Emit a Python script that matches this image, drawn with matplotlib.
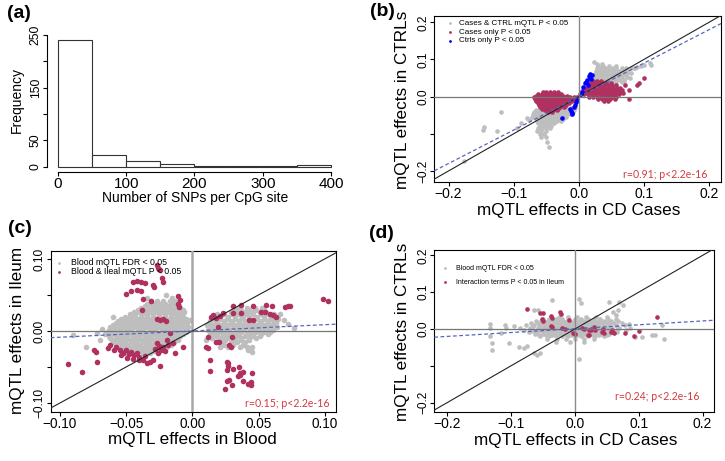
"""Four-panel mQTL figure: SNP-per-CpG histogram and three effect-size scatters."""

import matplotlib

matplotlib.use("Agg")

import matplotlib.pyplot as plt  # noqa: E402

plt.rcParams["font.family"] = ["Liberation Sans", "DejaVu Sans"]

GRAY = "#bebebe"
MAROON = "#b03060"
BLUE = "#0000ff"
STAT_RED = "#d33a3f"
FIT_BLUE = "#5864bd"

# ---- (a) histogram -------------------------------------------------------
HIST_EDGES = [0, 50, 100, 150, 200, 250, 300, 350, 400]
HIST_COUNTS = [240, 23, 10, 6, 1, 1, 1, 3]
A_XTICKS = [0, 100, 200, 300, 400]
A_YTICKS = [0, 50, 100, 150, 200, 250]
A_YLABELS = ["0", "50", "", "150", "", "250"]

# ---- shared scatter ticks ------------------------------------------------
BD_TICKS = [-0.2, -0.1, 0.0, 0.1, 0.2]
BD_XLABELS = ["\u22120.2", "\u22120.1", "0.0", "0.1", "0.2"]
BD_YLABELS = ["\u22120.2", "", "0.0", "0.1", "0.2"]
C_TICKS = [-0.10, -0.05, 0.0, 0.05, 0.10]
C_XLABELS = ["\u22120.10", "\u22120.05", "0.00", "0.05", "0.10"]
C_YLABELS = ["\u22120.10", "", "0.00", "", "0.10"]

# ---- (b) cases vs controls ----------------------------------------------
# rows: (y, [x, ...]) read off the dense clouds
B_GRAY_ROWS = [
    (-0.030, [-0.040, -0.030, -0.020, -0.012, -0.006]),
    (-0.036, [-0.066, -0.060, -0.054, -0.024, -0.018, -0.012, -0.007]),
    (-0.042, [-0.068, -0.062, -0.056, -0.050, -0.044, -0.038, -0.032, -0.026, -0.020, -0.014,
              -0.009]),
    (-0.048, [-0.066, -0.060, -0.054, -0.048, -0.042, -0.036, -0.030, -0.024, -0.018, -0.013]),
    (-0.054, [-0.068, -0.062, -0.056, -0.050, -0.044, -0.038, -0.032, -0.026, -0.020]),
    (-0.060, [-0.066, -0.060, -0.054, -0.048, -0.042, -0.036, -0.030, -0.024]),
    (-0.066, [-0.064, -0.058, -0.052, -0.046, -0.040, -0.034, -0.028]),
    (-0.072, [-0.062, -0.056, -0.050, -0.044, -0.038]),
    (-0.078, [-0.060, -0.054, -0.048, -0.042]),
    (-0.085, [-0.062, -0.056, -0.050, -0.044]),
    (-0.093, [-0.064, -0.058, -0.051]),
    (-0.100, [-0.060, -0.053]),
    (-0.108, [-0.058, -0.050]),
    (0.088, [0.028, 0.036]),
    (0.082, [0.030, 0.038, 0.046, 0.058]),
    (0.076, [0.028, 0.034, 0.040, 0.046, 0.052, 0.058, 0.066, 0.072, 0.080, 0.086]),
    (0.070, [0.026, 0.032, 0.038, 0.044, 0.050, 0.056, 0.062, 0.068, 0.074]),
    (0.064, [0.026, 0.032, 0.038, 0.044, 0.050, 0.056, 0.062, 0.068, 0.074, 0.080]),
    (0.058, [0.024, 0.030, 0.036, 0.042, 0.048, 0.054, 0.060, 0.066, 0.072]),
    (0.052, [0.024, 0.030, 0.036, 0.042, 0.048, 0.054, 0.060, 0.066, 0.074]),
    (0.046, [0.022, 0.028, 0.034, 0.040, 0.046, 0.052, 0.058, 0.064, 0.070]),
    (0.040, [0.020, 0.026, 0.046, 0.052, 0.058, 0.066]),
]
B_GRAY_EXTRA = [
    (-0.049, -0.121), (-0.045, -0.135), (-0.072, -0.054), (-0.077, -0.062), (-0.070, -0.047),
    (-0.080, -0.058), (-0.088, -0.072), (-0.095, -0.085), (-0.119, -0.042), (-0.126, -0.092),
    (-0.146, -0.083), (-0.147, -0.090), (-0.177, -0.173),
    (0.024, 0.093), (0.089, 0.081), (0.095, 0.083), (0.100, 0.086), (0.109, 0.090),
    (0.111, 0.085), (0.085, 0.078), (0.078, 0.051), (0.070, 0.041),
]
B_MAROON_ROWS = [
    (0.013, [-0.055, -0.050, -0.044, -0.038, -0.032]),
    (0.008, [-0.062, -0.057, -0.051, -0.045, -0.039, -0.033, -0.027]),
    (0.003, [-0.066, -0.060, -0.054, -0.048, -0.042, -0.036, -0.030, -0.024, -0.018]),
    (-0.002, [-0.068, -0.062, -0.056, -0.050, -0.044, -0.038, -0.032, -0.026, -0.020, -0.014,
              -0.008, -0.003]),
    (-0.007, [-0.067, -0.061, -0.055, -0.049, -0.043, -0.037, -0.031, -0.025, -0.019, -0.013,
              -0.007]),
    (-0.012, [-0.065, -0.059, -0.053, -0.047, -0.041, -0.035, -0.029, -0.023, -0.017, -0.011]),
    (-0.017, [-0.063, -0.057, -0.051, -0.045, -0.039, -0.033, -0.027, -0.021, -0.015]),
    (-0.022, [-0.061, -0.055, -0.049, -0.043, -0.037, -0.031, -0.025, -0.019]),
    (-0.027, [-0.059, -0.053, -0.047, -0.041, -0.035, -0.029, -0.023]),
    (-0.032, [-0.056, -0.050, -0.044, -0.038, -0.032]),
    (-0.037, [-0.052, -0.046, -0.040, -0.034]),
    (-0.041, [-0.047, -0.041]),
    (0.042, [0.022, 0.028, 0.034]),
    (0.036, [0.018, 0.024, 0.030, 0.036, 0.042, 0.050]),
    (0.030, [0.015, 0.021, 0.027, 0.033, 0.039, 0.045, 0.051, 0.057]),
    (0.024, [0.011, 0.017, 0.023, 0.029, 0.035, 0.041, 0.047, 0.053, 0.059, 0.064]),
    (0.018, [0.007, 0.013, 0.019, 0.025, 0.031, 0.037, 0.043, 0.049, 0.055, 0.061, 0.066]),
    (0.012, [0.004, 0.010, 0.016, 0.022, 0.028, 0.034, 0.040, 0.046, 0.052, 0.058, 0.064]),
    (0.006, [0.002, 0.008, 0.014, 0.020, 0.026, 0.032, 0.038, 0.044, 0.050, 0.056, 0.062]),
    (0.000, [0.016, 0.022, 0.028, 0.034, 0.040, 0.046, 0.052, 0.058]),
    (-0.006, [0.030, 0.036, 0.042, 0.048, 0.055]),
    (-0.011, [0.039, 0.045]),
]
B_MAROON_EXTRA = [
    (0.0997, 0.050), (0.089, 0.032), (0.092, 0.036), (0.077, 0.018), (0.077, -0.006),
    (0.071, 0.031), (0.068, 0.010),
]
B_BLUE = [
    (-0.026, -0.057), (-0.0135, -0.034), (-0.011, -0.043), (-0.010, -0.047), (-0.006, -0.022),
    (-0.004, -0.015), (-0.003, -0.009), (-0.008, -0.028), (-0.012, -0.038),
    (0.020, 0.058), (0.018, 0.062), (0.017, 0.050), (0.012, 0.045), (0.0095, 0.036),
    (0.0146, 0.032), (0.007, 0.027), (0.0045, 0.0135), (0.016, 0.055), (0.011, 0.040),
    (0.019, 0.048), (0.003, 0.006),
]
B_FIT = (0.0, 0.90)  # intercept, slope
B_STAT = "r=0.91; p<2.2e-16"
B_KEYS = [("Cases & CTRL mQTL P < 0.05", GRAY), ("Cases only P < 0.05", MAROON),
          ("Ctrls only P < 0.05", BLUE)]

# ---- (c) blood vs ileum --------------------------------------------------
C_GRAY_ROWS = [
    (0.041, [-0.031, -0.027, -0.022, -0.017, -0.013]),
    (0.038, [-0.034, -0.030, -0.025, -0.021, -0.016, -0.012]),
    (0.035, [-0.036, -0.032, -0.028, -0.023, -0.019, -0.014, -0.010]),
    (0.032, [-0.039, -0.035, -0.031, -0.026, -0.022, -0.017, -0.013, -0.009]),
    (0.029, [-0.041, -0.037, -0.033, -0.029, -0.024, -0.020, -0.015, -0.011, -0.007]),
    (0.026, [-0.044, -0.040, -0.036, -0.032, -0.027, -0.023, -0.018, -0.014, -0.010, -0.006]),
    (0.023, [-0.047, -0.043, -0.038, -0.034, -0.030, -0.025, -0.021, -0.016, -0.012, -0.008]),
    (0.020, [-0.051, -0.047, -0.043, -0.039, -0.034, -0.030, -0.025, -0.021, -0.016, -0.011,
             -0.007]),
    (0.017, [-0.054, -0.050, -0.045, -0.041, -0.036, -0.032, -0.027, -0.023, -0.018, -0.014,
             -0.009, -0.005]),
    (0.014, [-0.056, -0.052, -0.047, -0.043, -0.038, -0.034, -0.029, -0.025, -0.020, -0.016,
             -0.011, -0.007, -0.003]),
    (0.011, [-0.058, -0.054, -0.049, -0.045, -0.040, -0.036, -0.031, -0.027, -0.022, -0.018,
             -0.013, -0.009, -0.004]),
    (0.008, [-0.060, -0.056, -0.051, -0.047, -0.042, -0.038, -0.033, -0.029, -0.024, -0.020,
             -0.015, -0.011, -0.006]),
    (0.005, [-0.062, -0.057, -0.053, -0.048, -0.044, -0.039, -0.035, -0.030, -0.026, -0.021,
             -0.017, -0.012, -0.008, -0.003]),
    (0.002, [-0.063, -0.059, -0.055, -0.050, -0.046, -0.041, -0.037, -0.032, -0.028, -0.023,
             -0.019, -0.014, -0.010, -0.005]),
    (-0.001, [-0.064, -0.059, -0.055, -0.050, -0.046, -0.041, -0.037, -0.032, -0.028, -0.023,
              -0.019, -0.014, -0.010, -0.005]),
    (-0.004, [-0.066, -0.061, -0.057, -0.052, -0.048, -0.043, -0.039, -0.034, -0.030, -0.025,
              -0.021, -0.016, -0.012, -0.007]),
    (-0.007, [-0.063, -0.058, -0.054, -0.049, -0.045, -0.040, -0.036, -0.031, -0.027, -0.022,
              -0.018, -0.013, -0.009]),
    (-0.010, [-0.062, -0.058, -0.053, -0.049, -0.044, -0.040, -0.035, -0.031, -0.026, -0.022,
              -0.017, -0.013]),
    (-0.013, [-0.061, -0.056, -0.052, -0.047, -0.043, -0.038, -0.034, -0.029, -0.025, -0.020,
              -0.016, -0.011]),
    (-0.016, [-0.060, -0.055, -0.051, -0.046, -0.042, -0.037, -0.033, -0.028, -0.023, -0.018,
              -0.014]),
    (-0.019, [-0.058, -0.053, -0.049, -0.044, -0.040, -0.035, -0.031, -0.026, -0.021, -0.016]),
    (-0.022, [-0.057, -0.052, -0.048, -0.043, -0.039, -0.034, -0.029, -0.024, -0.019]),
    (-0.025, [-0.055, -0.050, -0.046, -0.041, -0.037, -0.032, -0.027, -0.022]),
    (-0.028, [-0.053, -0.048, -0.044, -0.039, -0.034, -0.029]),
    (-0.031, [-0.051, -0.046, -0.042, -0.037, -0.032]),
    (0.032, [0.035, 0.041, 0.047, 0.053]),
    (0.029, [0.032, 0.037, 0.043, 0.048, 0.054]),
    (0.026, [0.029, 0.034, 0.040, 0.045, 0.051, 0.056]),
    (0.023, [0.019, 0.024, 0.030, 0.035, 0.041, 0.046, 0.052, 0.057, 0.062]),
    (0.020, [0.016, 0.021, 0.027, 0.032, 0.038, 0.043, 0.049, 0.054, 0.060, 0.064]),
    (0.017, [0.015, 0.021, 0.026, 0.032, 0.037, 0.043, 0.048, 0.054, 0.059, 0.065]),
    (0.014, [0.013, 0.018, 0.024, 0.029, 0.035, 0.040, 0.046, 0.051, 0.057, 0.062]),
    (0.011, [0.013, 0.019, 0.024, 0.030, 0.035, 0.041, 0.046, 0.052, 0.057, 0.063]),
    (0.008, [0.011, 0.016, 0.022, 0.027, 0.033, 0.038, 0.044, 0.049, 0.055, 0.060]),
    (0.005, [0.014, 0.020, 0.025, 0.031, 0.036, 0.042, 0.047, 0.053, 0.058, 0.064]),
    (0.002, [0.012, 0.017, 0.023, 0.028, 0.034, 0.039, 0.045, 0.050, 0.056, 0.061]),
    (-0.001, [0.015, 0.021, 0.026, 0.032, 0.037, 0.043, 0.048, 0.054, 0.059]),
    (-0.004, [0.013, 0.019, 0.024, 0.030, 0.035, 0.041, 0.046, 0.052, 0.057]),
    (-0.007, [0.017, 0.023, 0.028, 0.034, 0.040, 0.045, 0.051]),
    (-0.010, [0.015, 0.021, 0.026, 0.032, 0.037, 0.043, 0.048]),
    (-0.013, [0.020, 0.025, 0.031, 0.037, 0.043]),
    (-0.016, [0.018, 0.023, 0.029, 0.034, 0.040]),
    (-0.019, [0.024, 0.031, 0.038]),
    (-0.022, [0.021, 0.027, 0.036, 0.041, 0.045]),
]
C_GRAY_EXTRA = [
    (-0.090, -0.005), (-0.080, -0.022), (-0.072, -0.003), (-0.068, 0.003), (-0.070, -0.012),
    (-0.020, 0.050), (-0.034, 0.046), (-0.015, 0.046), (-0.060, 0.020), (-0.002, 0.015),
    (0.069, 0.015), (0.077, 0.004), (0.042, -0.026), (0.045, -0.029), (0.066, 0.023),
    (0.010, -0.012), (0.072, 0.010),
]
C_MAROON = [
    (-0.045, 0.068), (-0.042, 0.069), (-0.039, 0.068), (-0.036, 0.067), (-0.027, 0.092),
    (-0.0245, 0.085), (-0.026, 0.088), (-0.023, 0.073), (-0.022, 0.068), (-0.030, 0.064),
    (-0.029, 0.061), (-0.046, 0.055), (-0.050, 0.052), (-0.042, 0.057), (-0.039, 0.055),
    (-0.037, 0.045), (-0.031, 0.041), (-0.0107, 0.048), (-0.0094, 0.043), (-0.0107, 0.037),
    (-0.010, 0.033), (-0.038, 0.029), (-0.0245, 0.015), (-0.027, 0.017), (-0.022, 0.016),
    (-0.020, 0.014),
    (-0.094, -0.046), (-0.083, -0.057), (-0.072, -0.043), (-0.074, -0.026), (-0.073, -0.029),
    (-0.058, -0.022), (-0.059, -0.027), (-0.055, -0.026), (-0.052, -0.030), (-0.050, -0.027),
    (-0.048, -0.032), (-0.046, -0.029), (-0.044, -0.034), (-0.042, -0.030), (-0.040, -0.036),
    (-0.054, -0.033), (-0.049, -0.037), (-0.045, -0.039), (-0.040, -0.040), (-0.037, -0.041),
    (-0.0346, -0.045), (-0.032, -0.043), (-0.030, -0.040), (-0.0245, -0.048), (-0.027, -0.017),
    (-0.022, -0.022), (-0.0195, -0.0125), (-0.025, -0.021), (-0.028, -0.025), (-0.024, -0.026),
    (-0.021, -0.028), (-0.018, -0.020), (-0.026, -0.030), (-0.0145, -0.017), (-0.013, -0.031),
    (-0.007, -0.022), (-0.017, -0.003), (-0.036, -0.035), (-0.062, -0.020), (-0.064, -0.024),
    (0.0987, 0.045), (0.1025, 0.042), (0.0723, 0.034), (0.070, 0.033), (0.074, 0.034),
    (0.056, 0.036), (0.060, 0.034), (0.046, 0.034), (0.037, 0.036), (0.031, 0.035),
    (0.061, 0.022), (0.063, 0.020), (0.059, 0.023), (0.055, 0.027), (0.052, 0.026),
    (0.043, 0.015), (0.046, 0.015), (0.037, 0.025), (0.031, 0.025), (0.023, 0.025),
    (0.021, 0.021), (0.018, 0.0175), (0.016, 0.022), (0.014, 0.019), (0.0195, 0.006),
    (0.012, -0.008), (0.0107, -0.022), (0.012, -0.024), (0.018, -0.015), (0.020, -0.016),
    (0.028, -0.0195), (0.029, -0.022), (0.030, -0.008), (0.013, -0.041), (0.013, -0.055),
    (0.026, -0.043), (0.027, -0.049), (0.026, -0.054), (0.031, -0.053), (0.035, -0.050),
    (0.038, -0.057), (0.045, -0.059), (0.0346, -0.063), (0.036, -0.061), (0.028, -0.068),
    (0.026, -0.070), (0.0245, -0.080), (0.030, -0.075), (0.038, -0.070), (0.042, -0.073),
    (0.0447, -0.075), (0.044, -0.071), (0.027, -0.045), (0.036, -0.059),
]
C_FIT = (0.0, 0.087)
C_STAT = "r=0.15; p<2.2e-16"
C_KEYS = [("Blood mQTL FDR < 0.05", GRAY), ("Blood & Ileal mQTL P < 0.05", MAROON)]

# ---- (d) interaction terms ----------------------------------------------
D_GRAY_ROWS = [
    (0.034, [-0.038, -0.024, -0.010, 0.004, 0.018, 0.034, 0.050]),
    (0.028, [-0.050, -0.040, -0.030, -0.020, -0.010, 0.000, 0.010, 0.020, 0.030, 0.040, 0.052,
             0.064]),
    (0.022, [-0.060, -0.050, -0.042, -0.034, -0.026, -0.018, -0.010, -0.002, 0.006, 0.014,
             0.022, 0.030, 0.038, 0.046, 0.056, 0.068]),
    (0.019, [-0.054, -0.045, -0.037, -0.030, -0.023, -0.016, -0.009, -0.002, 0.005, 0.012,
             0.019, 0.026, 0.033, 0.040, 0.048, 0.057]),
    (0.016, [-0.068, -0.058, -0.049, -0.041, -0.034, -0.027, -0.020, -0.013, -0.006, 0.001,
             0.008, 0.015, 0.022, 0.029, 0.036, 0.044, 0.052, 0.062, 0.074]),
    (0.010, [-0.076, -0.064, -0.054, -0.046, -0.039, -0.032, -0.025, -0.018, -0.011, -0.004,
             0.003, 0.010, 0.017, 0.024, 0.031, 0.038, 0.046, 0.054, 0.064, 0.078]),
    (0.007, [-0.066, -0.056, -0.047, -0.039, -0.032, -0.025, -0.018, -0.011, -0.004, 0.003,
             0.010, 0.017, 0.024, 0.031, 0.038, 0.046, 0.055, 0.066]),
    (0.004, [-0.086, -0.070, -0.058, -0.049, -0.042, -0.035, -0.028, -0.021, -0.014, -0.007,
             0.000, 0.007, 0.014, 0.021, 0.028, 0.035, 0.042, 0.050, 0.059, 0.070, 0.086]),
    (-0.002, [-0.080, -0.066, -0.055, -0.046, -0.039, -0.032, -0.025, -0.018, -0.011, -0.004,
              0.003, 0.010, 0.017, 0.024, 0.031, 0.038, 0.046, 0.055, 0.066, 0.080]),
    (-0.005, [-0.068, -0.058, -0.049, -0.041, -0.034, -0.027, -0.020, -0.013, -0.006, 0.001,
              0.008, 0.015, 0.022, 0.029, 0.036, 0.044, 0.053, 0.064]),
    (-0.008, [-0.072, -0.060, -0.050, -0.042, -0.035, -0.028, -0.021, -0.014, -0.007, 0.000,
              0.007, 0.014, 0.021, 0.028, 0.036, 0.044, 0.054, 0.066]),
    (-0.014, [-0.062, -0.050, -0.040, -0.032, -0.024, -0.016, -0.008, 0.000, 0.008, 0.016,
              0.024, 0.032, 0.042, 0.054]),
    (-0.017, [-0.056, -0.045, -0.036, -0.028, -0.020, -0.012, -0.004, 0.004, 0.012, 0.020,
              0.028, 0.038, 0.050]),
    (-0.020, [-0.054, -0.040, -0.030, -0.020, -0.010, 0.000, 0.010, 0.020, 0.032, 0.046]),
    (-0.027, [-0.044, -0.028, -0.014, 0.000, 0.014, 0.030]),
    (-0.035, [-0.030, -0.008, 0.014]),
]
D_GRAY_EXTRA = [
    (-0.132, 0.015), (-0.132, 0.003), (-0.132, -0.019), (-0.130, -0.037), (-0.129, -0.057),
    (-0.109, 0.011), (-0.108, 0.002), (-0.103, -0.037), (-0.088, -0.048), (-0.080, -0.052),
    (-0.075, -0.045), (-0.064, -0.064), (-0.059, -0.071), (-0.055, -0.066), (-0.064, 0.052),
    (-0.058, 0.052), (-0.036, 0.079), (0.006, 0.081), (0.009, 0.070), (0.007, -0.080),
    (0.053, 0.074), (0.069, 0.074), (0.068, 0.052), (0.075, 0.065), (0.060, 0.045),
    (0.065, 0.038), (0.0845, 0.015), (0.121, -0.016), (0.137, 0.011), (0.139, -0.028),
    (0.125, -0.016), (0.105, -0.021), (0.095, -0.021), (-0.095, 0.008), (-0.115, -0.010),
]
D_MAROON = [
    (-0.0746, 0.0535), (-0.054, 0.043), (-0.050, 0.043), (-0.051, 0.026), (-0.049, 0.022),
    (-0.0366, 0.035), (-0.036, 0.030), (-0.038, 0.008), (-0.036, 0.005), (-0.0225, 0.047),
    (-0.021, 0.040), (-0.020, 0.002), (-0.016, 0.001), (-0.0094, 0.024), (-0.0027, -0.010),
    (0.001, -0.014), (0.011, 0.002), (0.014, 0.001), (0.022, -0.003), (0.025, -0.003),
    (0.021, -0.016), (0.023, -0.017), (0.032, -0.003), (0.043, -0.007), (0.044, -0.001),
    (0.046, -0.010), (0.056, -0.007), (0.061, -0.010), (0.059, -0.003), (0.079, -0.012),
    (0.092, -0.019), (0.100, -0.005), (0.129, 0.0335), (0.030, 0.005),
]
D_FIT = (0.001, 0.105)
D_STAT = "r=0.24; p<2.2e-16"
D_KEYS = [("Blood mQTL FDR < 0.05", GRAY), ("Interaction terms P < 0.05 in Ileum", MAROON)]


def _rows_to_points(rows):
    return [(x, y) for y, xs in rows for x in xs]


def _scatter(ax, points, color, size):
    xs = [p[0] for p in points]
    ys = [p[1] for p in points]
    ax.scatter(xs, ys, s=size, color=color, linewidths=0, zorder=2)


def _style_axes(ax, xlim, ylim, ticks, xlabels, ylabels, xtick_size, ytick_size):
    ax.set_xlim(*xlim)
    ax.set_ylim(*ylim)
    ax.set_xticks(ticks, xlabels)
    ax.set_yticks(ticks, ylabels)
    for spine in ax.spines.values():
        spine.set_linewidth(0.8)
    ax.tick_params(direction="out", length=3.2, width=0.8, pad=0.5)
    ax.tick_params(axis="x", labelsize=xtick_size)
    ax.tick_params(axis="y", labelsize=ytick_size, labelrotation=90)
    for label in ax.get_yticklabels():
        label.set_va("center")


def _guides(ax, fit, vcolor="#8a8a8a", vwidth=1.0):
    ax.axvline(0, color=vcolor, linewidth=vwidth, zorder=3)
    ax.axhline(0, color="#777777", linewidth=0.9, zorder=3)
    ax.axline((0, 0), slope=1, color="#222222", linewidth=0.8, zorder=3)
    ax.axline((0, fit[0]), slope=fit[1], color=FIT_BLUE, linewidth=0.9,
              linestyle=(0, (3, 2)), zorder=3)


def _keys(ax, entries, x_mark, x_text, ys, size):
    for (label, color), y in zip(entries, ys):
        ax.scatter([x_mark], [y], s=4, color=color, linewidths=0,
                   transform=ax.transAxes, clip_on=False, zorder=4)
        ax.text(x_text, y, label, transform=ax.transAxes, fontsize=size, va="center")


def _stat(ax, text, x, y):
    ax.text(x, y, text, transform=ax.transAxes, ha="right", va="center",
            color=STAT_RED, fontsize=7.6, family=["Lato", "DejaVu Sans"])


def _labels(ax, xlabel, ylabel, xpos, ypos, size):
    ax.set_xlabel(xlabel, fontsize=size)
    ax.set_ylabel(ylabel, fontsize=size)
    ax.xaxis.set_label_coords(*xpos)
    ax.yaxis.set_label_coords(*ypos)
    ax.xaxis.label.set_va("center")
    ax.yaxis.label.set_va("center")


fig = plt.figure(figsize=(7.25, 4.61), dpi=100)

# (a)
ax_a = fig.add_axes([0.0648, 0.6269, 0.4069, 0.3093])
ax_a.bar(HIST_EDGES[:-1], HIST_COUNTS, width=50, align="edge", facecolor="white",
         edgecolor="#333333", linewidth=0.8)
ax_a.set_xlim(-16, 416)
ax_a.set_ylim(-10, 260)
ax_a.set_xticks(A_XTICKS, [str(t) for t in A_XTICKS])
ax_a.set_yticks(A_YTICKS, A_YLABELS)
ax_a.spines[["top", "right"]].set_visible(False)
ax_a.spines["left"].set_bounds(0, 250)
ax_a.spines["bottom"].set_bounds(0, 400)
for side in ("left", "bottom"):
    ax_a.spines[side].set_linewidth(0.8)
ax_a.tick_params(direction="out", length=3.2, width=0.8, pad=0.5)
ax_a.tick_params(axis="x", labelsize=11)
ax_a.tick_params(axis="y", labelsize=8.8, labelrotation=90)
for lab in ax_a.get_yticklabels():
    lab.set_va("center")
_labels(ax_a, "Number of SNPs per CpG site", "Frequency", (0.502, -0.182), (-0.103, 0.505), 10)

# (b)
ax_b = fig.add_axes([0.599, 0.6059, 0.3954, 0.3601])
_scatter(ax_b, _rows_to_points(B_GRAY_ROWS) + B_GRAY_EXTRA, GRAY, 11)
_scatter(ax_b, _rows_to_points(B_MAROON_ROWS) + B_MAROON_EXTRA, MAROON, 11)
_scatter(ax_b, B_BLUE, BLUE, 11)
_guides(ax_b, B_FIT)
_style_axes(ax_b, (-0.222, 0.2185), (-0.229, 0.218), BD_TICKS, BD_XLABELS, BD_YLABELS, 10, 8.6)
_keys(ax_b, B_KEYS, 0.056, 0.085, [0.954, 0.900, 0.849], 5.8)
_stat(ax_b, B_STAT, 0.951, 0.046)
_labels(ax_b, "mQTL effects in CD Cases", "mQTL effects in CTRLs",
        (0.504, -0.175), (-0.110, 0.492), 12.3)

# (c)
ax_c = fig.add_axes([0.0699, 0.1063, 0.3931, 0.3492])
_scatter(ax_c, _rows_to_points(C_GRAY_ROWS) + C_GRAY_EXTRA, GRAY, 16)
_scatter(ax_c, C_MAROON, MAROON, 16)
_guides(ax_c, C_FIT, vcolor="#a8a8a8", vwidth=1.8)
_style_axes(ax_c, (-0.107, 0.1083), (-0.1125, 0.111), C_TICKS, C_XLABELS, C_YLABELS, 9.8, 8.6)
_keys(ax_c, C_KEYS, 0.029, 0.070, [0.927, 0.871], 6.3)
_stat(ax_c, C_STAT, 0.980, 0.054)
_labels(ax_c, "mQTL effects in Blood", "mQTL effects in Ileum",
        (0.496, -0.168), (-0.118, 0.509), 12.3)

# (d)
ax_d = fig.add_axes([0.599, 0.1069, 0.3854, 0.3508])
_scatter(ax_d, _rows_to_points(D_GRAY_ROWS) + D_GRAY_EXTRA, GRAY, 11)
_scatter(ax_d, D_MAROON, MAROON, 11)
_guides(ax_d, D_FIT)
_style_axes(ax_d, (-0.22, 0.2175), (-0.2245, 0.2147), BD_TICKS, BD_XLABELS, BD_YLABELS, 10, 8.6)
_keys(ax_d, D_KEYS, 0.039, 0.078, [0.887, 0.800], 5.0)
_stat(ax_d, D_STAT, 0.950, 0.093)
_labels(ax_d, "mQTL effects in CD Cases", "mQTL effects in CTRLs",
        (0.505, -0.175), (-0.112, 0.493), 12.3)

for tag, (px, py) in {"(a)": (19, 13), "(b)": (382, 12), "(c)": (20, 228), "(d)": (381, 233)}.items():
    fig.text(px / 725, 1 - py / 461, tag, fontsize=14, fontweight="bold", ha="center", va="center")

fig.savefig("out.png", dpi=100)
